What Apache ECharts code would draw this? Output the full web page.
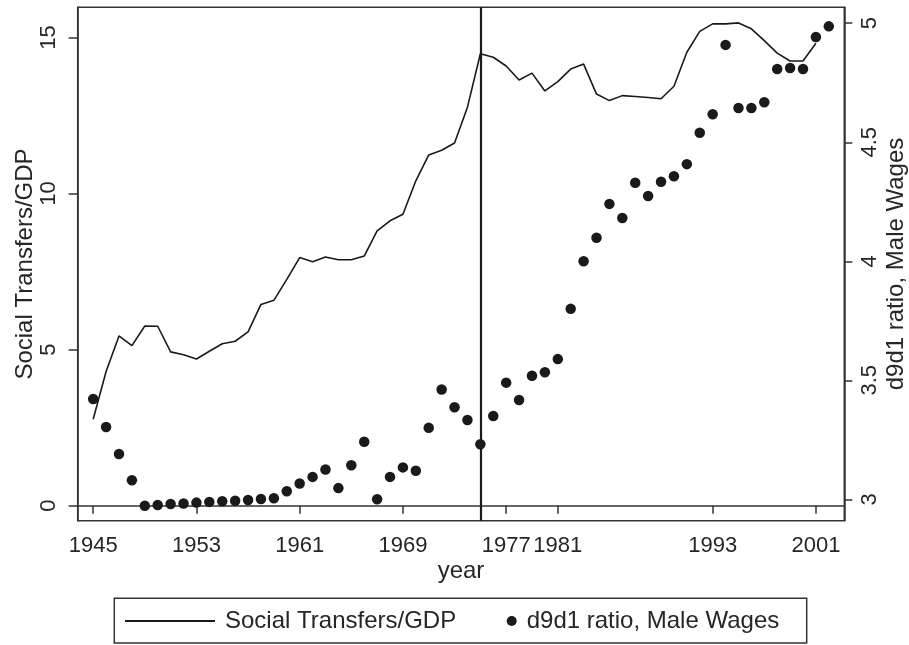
<!DOCTYPE html>
<html>
<head>
<meta charset="utf-8">
<script src="https://cdn.jsdelivr.net/npm/echarts@6/dist/echarts.min.js"></script>
<style>
html,body{margin:0;padding:0;background:#fff;}
#c{width:909px;height:645px;}
</style>
</head>
<body>
<div id="c"></div>
<script>
const years = [1945,1946,1947,1948,1949,1950,1951,1952,1953,1954,
  1955,1956,1957,1958,1959,1960,1961,1962,1963,1964,
  1965,1966,1967,1968,1969,1970,1971,1972,1973,1974,
  1975,1976,1977,1978,1979,1980,1981,1982,1983,1984,
  1985,1986,1987,1988,1989,1990,1991,1992,1993,1994,
  1995,1996,1997,1998,1999,2000,2001,2002];
const transfers = [2.77,4.30,5.44,5.13,5.76,5.75,4.93,4.84,4.70,4.95,
  5.19,5.27,5.57,6.45,6.58,7.25,7.95,7.82,7.97,7.88,
  7.88,8.00,8.81,9.13,9.34,10.41,11.24,11.39,11.62,12.77,
  14.48,14.37,14.09,13.64,13.86,13.29,13.59,13.99,14.15,13.19,
  12.98,13.14,13.11,13.08,13.04,13.44,14.53,15.20,15.44,15.44,
  15.47,15.28,14.90,14.50,14.25,14.25,14.82,null];
const d9d1 = [3.421,3.304,3.190,3.080,2.973,2.976,2.980,2.982,2.986,2.989,
  2.992,2.994,2.997,3.001,3.004,3.034,3.066,3.094,3.125,3.047,
  3.143,3.242,3.000,3.094,3.134,3.120,3.300,3.461,3.387,3.333,
  3.231,3.350,3.490,3.417,3.519,3.534,3.589,3.800,4.000,4.099,
  4.241,4.182,4.330,4.274,4.334,4.357,4.408,4.540,4.618,4.909,
  4.644,4.644,4.668,4.808,4.812,4.808,4.942,4.987];
const xTicks = [1945,1953,1961,1969,1977,1981,1993,2001];
const leftTicks = [0,5,10,15];
const rightTicks = [3,3.5,4,4.5,5];
const markerYear = 1975;
const lineName = 'Social Transfers/GDP';
const dotName = 'd9d1 ratio, Male Wages';

const FONT = "'Liberation Sans', Arial, Helvetica, sans-serif";
const INK = '#1a1a1a';
const TXT = '#262626';

const lineData = years.map((y,i)=>[y, transfers[i]]).filter(p=>p[1]!==null);
const dotData = years.map((y,i)=>[y, d9d1[i]]);

const chart = echarts.init(document.getElementById('c'), null, {renderer:'canvas'});
chart.setOption({
  animation:false,
  backgroundColor:'#fff',
  textStyle:{fontFamily:FONT},
  grid:{left:77.7, right:64.7, top:7.3, bottom:124.3, outerBoundsMode:'none', containLabel:false,
        show:true, borderColor:'#333', borderWidth:1.5, backgroundColor:'transparent'},
  xAxis:{
    type:'value', min:1943.8, max:2003.2,
    name:'year', nameLocation:'middle', nameGap:39, nameMoveOverlap:false,
    nameTextStyle:{fontSize:24, color:TXT, fontFamily:FONT},
    axisLine:{show:true, lineStyle:{color:'#333', width:1.5}},
    axisTick:{show:true, length:8, customValues:xTicks, lineStyle:{color:'#333', width:1.5}},
    axisLabel:{customValues:xTicks, fontSize:22, color:TXT, fontFamily:FONT, margin:14, formatter:v=>String(v)},
    splitLine:{show:false}
  },
  yAxis:[{
    type:'value', min:-0.48, max:15.97, position:'left',
    name:'Social Transfers/GDP', nameLocation:'middle', nameGap:40, nameRotate:90, nameMoveOverlap:false,
    nameTextStyle:{fontSize:24, color:TXT, fontFamily:FONT},
    axisLine:{show:true, lineStyle:{color:'#333', width:1.5}},
    axisTick:{show:true, length:9, customValues:leftTicks, lineStyle:{color:'#333', width:1.5}},
    axisLabel:{customValues:leftTicks, rotate:90, fontSize:22, color:TXT, fontFamily:FONT, margin:18},
    splitLine:{show:false}
  },{
    type:'value', min:2.91, max:5.067, position:'right',
    name:'d9d1 ratio, Male Wages', nameLocation:'middle', nameGap:40, nameRotate:90, nameMoveOverlap:false,
    nameTextStyle:{fontSize:24, color:TXT, fontFamily:FONT},
    axisLine:{show:true, lineStyle:{color:'#333', width:1.5}},
    axisTick:{show:true, length:8, customValues:rightTicks, lineStyle:{color:'#333', width:1.5}},
    axisLabel:{customValues:rightTicks, rotate:90, fontSize:22, color:TXT, fontFamily:FONT, margin:15},
    splitLine:{show:false}
  }],
  legend:[{
    data:[{name:lineName, icon:'rect'}], left:125, top:609, padding:0, itemWidth:90, itemHeight:2, itemGap:0,
    itemStyle:{color:INK},
    textStyle:{fontSize:24, color:TXT, fontFamily:FONT, padding:[0,0,0,5]}
  },{
    data:[{name:dotName, icon:'circle'}], left:506.7, top:609, padding:0, itemWidth:10, itemHeight:10,
    itemStyle:{color:INK, opacity:1},
    textStyle:{fontSize:24, color:TXT, fontFamily:FONT, padding:[0,0,0,5]}
  }],
  graphic:[{
    type:'rect', silent:true,
    shape:{x:114.3, y:598.3, width:692.4, height:44.7},
    style:{fill:'none', stroke:'#333', lineWidth:1.5}
  }],
  series:[{
    name:lineName, type:'line', yAxisIndex:0, data:lineData,
    symbol:'none', showSymbol:false,
    lineStyle:{color:INK, width:1.6}, itemStyle:{color:INK},
    z:2,
    markLine:{
      silent:true, symbol:'none', label:{show:false},
      lineStyle:{color:INK, width:2.2, type:'solid'},
      data:[{xAxis:markerYear}]
    }
  },{
    name:dotName, type:'scatter', yAxisIndex:1, data:dotData,
    symbol:'circle', symbolSize:10.5, itemStyle:{color:INK, opacity:1}, z:3
  }]
});
</script>
</body>
</html>
